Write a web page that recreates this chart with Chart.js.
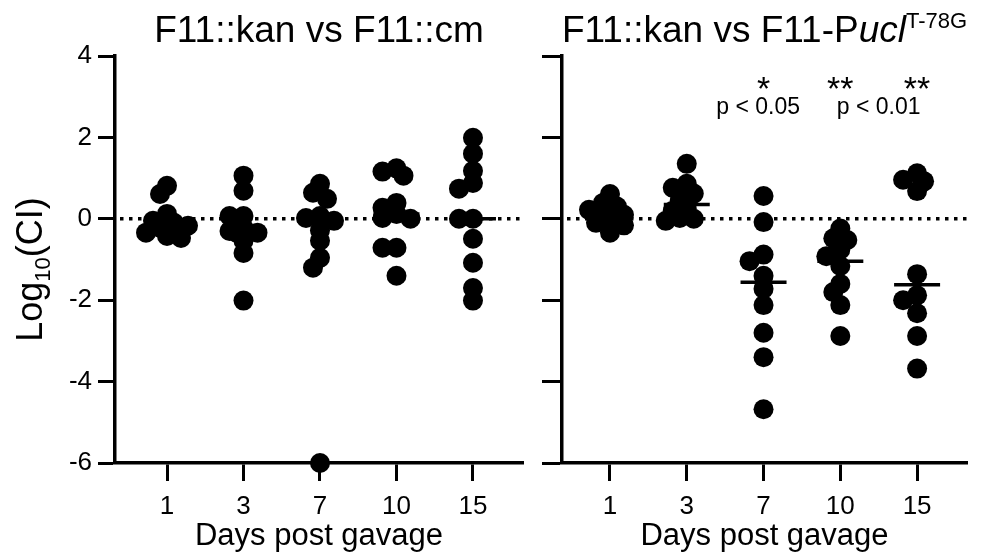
<!DOCTYPE html>
<html>
<head>
<meta charset="utf-8">
<script src="https://cdn.jsdelivr.net/npm/chart.js@4.4.1/dist/chart.umd.min.js"></script>
<style>
  html, body { margin: 0; padding: 0; background: #fff; }
  #wrap { position: relative; width: 988px; height: 552px; }
  #left { position: absolute; left: 0; top: 0; }
  #right { position: absolute; left: 535px; top: 0; }
</style>
</head>
<body>
<div id="wrap">
  <canvas id="left" width="535" height="552"></canvas>
  <canvas id="right" width="453" height="552"></canvas>
</div>
<script>
const days = ['1', '3', '7', '10', '15'];
const yTicks = [-6, -4, -2, 0, 2, 4];

// F11::kan vs F11::cm, log10(CI) per mouse
const cmDay1 = [0.81, 0.61, 0.12, -0.05, -0.1, -0.17, -0.22, -0.34, -0.42, -0.47];
const cmDay3 = [1.06, 0.69, 0.07, 0.07, -0.22, -0.3, -0.34, -0.34, -0.54, -0.84, -2.01];
const cmDay7 = [0.86, 0.64, 0.49, 0.07, 0.02, -0.05, -0.29, -0.54, -0.96, -1.2, -6];
const cmDay10 = [1.24, 1.16, 1.06, 0.39, 0.27, 0.12, 0.02, 0, -0.71, -0.71, -1.4];
const cmDay15 = [1.99, 1.6, 1.18, 0.88, 0.74, 0, 0, -0.49, -1.08, -1.7, -2.01];

// F11::kan vs F11-Pucl T-78G
const uclDay1 = [0.61, 0.39, 0.3, 0.22, 0.14, 0.1, -0.08, -0.1, -0.16, -0.34];
const uclDay3 = [1.35, 0.86, 0.76, 0.62, 0.45, 0.25, 0.2, 0.02, 0, -0.05];
const uclDay7 = [0.56, -0.08, -0.88, -1.04, -1.4, -1.72, -2.12, -2.8, -3.4, -4.68];
const uclDay10 = [-0.24, -0.48, -0.52, -0.76, -0.92, -1.16, -1.6, -1.8, -2.12, -2.88];
const uclDay15 = [1.12, 0.96, 0.92, 0.68, -1.36, -1.88, -2, -2.32, -2.88, -3.68];

const stars = ['', '', '*', '**', '**'];
const pNotes = ['p < 0.05', 'p < 0.01'];

const FONT = '"Liberation Sans", Arial, Helvetica, sans-serif';
Chart.defaults.font.family = FONT;
Chart.defaults.color = '#000';

function median(a) {
  const s = [...a].sort((p, q) => p - q);
  const n = s.length;
  return n % 2 ? s[(n - 1) / 2] : (s[n / 2 - 1] + s[n / 2]) / 2;
}

function drawSegments(ctx, segs, x, y, size, align) {
  const fontOf = s => (s.italic ? 'italic ' : '') + (s.sup || s.sub ? Math.round(size * 0.6) : size) + 'px ' + FONT;
  let total = 0;
  segs.forEach(s => { ctx.font = fontOf(s); total += ctx.measureText(s.t).width; });
  let cx = align === 'center' ? x - total / 2 : x;
  ctx.textAlign = 'left';
  ctx.textBaseline = 'alphabetic';
  segs.forEach(s => {
    ctx.font = fontOf(s);
    const dy = s.sup ? -size * 0.38 : s.sub ? size * 0.22 : 0;
    ctx.fillText(s.t, cx, y + dy);
    cx += ctx.measureText(s.t).width;
  });
}

const dotPlot = {
  id: 'dotPlot',
  beforeDatasetsDraw(chart, args, opts) {
    const { ctx, chartArea: a, scales: { y } } = chart;
    const py = y.getPixelForValue(0);
    ctx.save();
    ctx.strokeStyle = '#000';
    ctx.lineWidth = 3.5;
    ctx.setLineDash([3.5, 5.5]);
    ctx.beginPath();
    ctx.moveTo(a.left + 5, py);
    ctx.lineTo(a.right, py);
    ctx.stroke();
    ctx.restore();
  },
  afterDatasetsDraw(chart, args, opts) {
    const { ctx, chartArea: a, scales: { x, y } } = chart;
    ctx.save();
    ctx.fillStyle = '#000';
    ctx.strokeStyle = '#000';
    // median bars
    ctx.lineWidth = 3.5;
    opts.groups.forEach((g, i) => {
      const px = x.getPixelForValue(i);
      const py = y.getPixelForValue(median(g));
      ctx.beginPath();
      ctx.moveTo(px - 23, py);
      ctx.lineTo(px + 23, py);
      ctx.stroke();
    });
    // panel title
    drawSegments(ctx, opts.title, (a.left + a.right) / 2, 42, 37, 'center');
    // y axis title
    if (opts.yTitle) {
      ctx.save();
      ctx.translate(42, (a.top + a.bottom) / 2 + 10);
      ctx.rotate(-Math.PI / 2);
      drawSegments(ctx, [{ t: 'Log' }, { t: '10', sub: true }, { t: '(CI)' }], 0, 0, 36, 'center');
      ctx.restore();
    }
    // significance marks
    if (opts.notes) {
      ctx.textAlign = 'center';
      ctx.textBaseline = 'alphabetic';
      ctx.font = '34px ' + FONT;
      stars.forEach((s, i) => {
        if (s) ctx.fillText(s, x.getPixelForValue(i), y.getPixelForValue(2.93));
      });
      ctx.font = '23px ' + FONT;
      ctx.fillText(pNotes[0], x.getPixelForValue(1.93), y.getPixelForValue(2.58));
      ctx.fillText(pNotes[1], x.getPixelForValue(3.5), y.getPixelForValue(2.58));
    }
    ctx.restore();
  }
};

function makeChart(id, groups, side) {
  const left = side === 'left';
  const data = [];
  groups.forEach((g, i) => g.forEach(v => data.push({ x: i, y: v })));
  return new Chart(document.getElementById(id), {
    type: 'scatter',
    data: {
      datasets: [{
        data: data,
        pointRadius: 10,
        pointHoverRadius: 10,
        pointBackgroundColor: '#000',
        pointBorderWidth: 0,
        clip: false
      }]
    },
    options: {
      responsive: false,
      animation: false,
      events: [],
      devicePixelRatio: 1,
      layout: { padding: { top: 56, right: left ? 12 : 21, left: 0, bottom: 0 } },
      plugins: {
        legend: { display: false },
        tooltip: { enabled: false },
        dotPlot: {
          groups: groups,
          yTitle: left,
          notes: !left,
          title: left
            ? [{ t: 'F11::kan vs F11::cm' }]
            : [{ t: 'F11::kan vs F11-P' }, { t: 'ucl', italic: true }, { t: 'T-78G', sup: true }]
        }
      },
      scales: {
        x: {
          type: 'linear',
          min: left ? -0.68 : -0.625,
          max: left ? 4.654 : 4.65,
          afterBuildTicks: s => { s.ticks = days.map((d, i) => ({ value: i })); },
          ticks: {
            callback: v => days[v],
            font: { size: 26 },
            color: '#000',
            padding: 10,
            maxRotation: 0,
            autoSkip: false
          },
          grid: { drawOnChartArea: false, drawTicks: true, tickLength: 18, tickWidth: 3, tickColor: '#000' },
          border: { color: '#000', width: 3.5 },
          title: { display: true, text: 'Days post gavage', font: { size: 31, lineHeight: 1 }, color: '#000', padding: 0 },
          afterFit: s => { s.height = 89; }
        },
        y: {
          min: -6,
          max: 4,
          afterBuildTicks: s => { s.ticks = yTicks.map(v => ({ value: v })); },
          ticks: { display: left, callback: v => String(v), font: { size: 26 }, color: '#000', padding: 6 },
          grid: { drawOnChartArea: false, drawTicks: true, tickLength: left ? 17 : 20, tickWidth: 3, tickColor: '#000' },
          border: { color: '#000', width: 3.5 },
          afterFit: s => { s.width = left ? 115 : 27; }
        }
      }
    },
    plugins: [dotPlot]
  });
}

// spread points sideways so they do not sit on top of each other
function swarm(chart, groups) {
  const xs = chart.scales.x, ys = chart.scales.y;
  const pxPerCat = xs.getPixelForValue(1) - xs.getPixelForValue(0);
  const STEP = 7, MIN = 10;
  const cands = [0, -STEP, STEP, -2 * STEP, 2 * STEP, -3 * STEP, 3 * STEP];
  const pts = [];
  groups.forEach((vals, gi) => {
    const placed = [];
    const order = vals.map((v, i) => i).sort((a, b) => vals[b] - vals[a]);
    order.forEach(i => {
      const py = ys.getPixelForValue(vals[i]);
      let best = 0, bestD = -1;
      for (const off of cands) {
        const d = placed.length ? Math.min(...placed.map(p => Math.hypot(p.x - off, p.y - py))) : Infinity;
        if (d >= MIN) { best = off; bestD = d; break; }
        if (d > bestD) { bestD = d; best = off; }
      }
      placed.push({ x: best, y: py });
      pts.push({ x: gi + best / pxPerCat, y: vals[i] });
    });
  });
  chart.data.datasets[0].data = pts;
  chart.update('none');
}

const cmGroups = [cmDay1, cmDay3, cmDay7, cmDay10, cmDay15];
const uclGroups = [uclDay1, uclDay3, uclDay7, uclDay10, uclDay15];
const leftChart = makeChart('left', cmGroups, 'left');
const rightChart = makeChart('right', uclGroups, 'right');
swarm(leftChart, cmGroups);
swarm(rightChart, uclGroups);
</script>
</body>
</html>
